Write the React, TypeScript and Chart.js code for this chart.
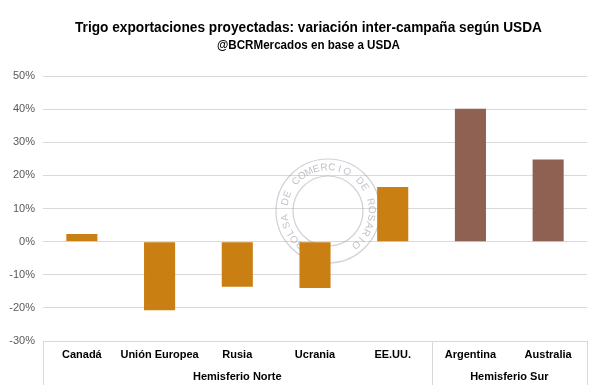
import React, { useEffect, useRef } from "react";
import { Chart, registerables } from "chart.js";

Chart.register(...registerables);

const categories = ["Canadá", "Unión Europea", "Rusia", "Ucrania", "EE.UU.", "Argentina", "Australia"];
const values = [2.3, -20.7, -13.6, -14.0, 16.5, 40.1, 24.8];
const groupNames = ["Hemisferio Norte", "Hemisferio Sur"];
const groupSizes = [5, 2];
const groupColors = ["#C97F12", "#8F6153"];
const yTicks = [-30, -20, -10, 0, 10, 20, 30, 40, 50];
const titleText = "Trigo exportaciones proyectadas: variación inter-campaña según USDA";
const subtitleText = "@BCRMercados en base a USDA";

const barColors: string[] = [];
groupSizes.forEach((n, gi) => {
  for (let i = 0; i < n; i++) barColors.push(groupColors[gi]);
});

const sansFont = "'Liberation Sans', Arial, sans-serif";

function fitText(ctx: any, text: string, cx: number, cy: number, width: number) {
  const w = ctx.measureText(text).width;
  ctx.save();
  ctx.translate(cx, cy);
  ctx.scale(width / w, 1);
  ctx.fillText(text, 0, 0);
  ctx.restore();
}

const decorPlugin = {
  id: "decor",
  beforeDatasetsDraw(chart: any) {
    const ctx = chart.ctx;
    const cx = 328, cy = 211, r = 52;
    ctx.save();
    ctx.strokeStyle = "rgba(150,150,165,0.45)";
    ctx.lineWidth = 1.2;
    ctx.beginPath(); ctx.arc(cx, cy, r, 0, Math.PI * 2); ctx.stroke();
    ctx.beginPath(); ctx.arc(cx, cy, r - 17, 0, Math.PI * 2); ctx.stroke();
    const txt = "BOLSA DE COMERCIO DE ROSARIO";
    ctx.fillStyle = "rgba(150,150,165,0.6)";
    ctx.font = "10px " + sansFont;
    ctx.textAlign = "center";
    ctx.textBaseline = "middle";
    const start = Math.PI * 0.72;
    const span = Math.PI * 1.56;
    for (let i = 0; i < txt.length; i++) {
      const a = start + (span * i) / (txt.length - 1);
      ctx.save();
      ctx.translate(cx + Math.cos(a) * (r - 8.5), cy + Math.sin(a) * (r - 8.5));
      ctx.rotate(a + Math.PI / 2);
      ctx.fillText(txt[i], 0, 0);
      ctx.restore();
    }
    ctx.restore();
  },
  afterDraw(chart: any) {
    const ctx = chart.ctx;
    const x = chart.scales.x;
    const area = chart.chartArea;
    const top = area.bottom;
    const bottom = chart.height - 6;
    const step = (area.right - area.left) / categories.length;
    ctx.save();
    ctx.strokeStyle = "#D9D9D9";
    ctx.lineWidth = 1;
    let idx = 0;
    const bounds = [0];
    groupSizes.forEach((n) => { idx += n; bounds.push(idx); });
    bounds.forEach((b) => {
      const px = Math.round(area.left + b * step) + 0.5;
      ctx.beginPath();
      ctx.moveTo(px, top);
      ctx.lineTo(px, bottom);
      ctx.stroke();
    });
    ctx.fillStyle = "#000000";
    ctx.font = "bold 11px " + sansFont;
    ctx.textAlign = "center";
    ctx.textBaseline = "middle";
    categories.forEach((c, i) => {
      ctx.fillText(c, x.getPixelForValue(i), top + 14);
    });
    for (let g = 0; g < groupNames.length; g++) {
      const l = area.left + bounds[g] * step;
      const r = area.left + bounds[g + 1] * step;
      ctx.fillText(groupNames[g], (l + r) / 2, top + 36);
    }
    ctx.textBaseline = "alphabetic";
    ctx.font = "bold 15px " + sansFont;
    fitText(ctx, titleText, 308.5, 32, 467);
    ctx.font = "bold 13px " + sansFont;
    fitText(ctx, subtitleText, 308.5, 49, 183);
    ctx.restore();
  },
};

export default function App() {
  const ref = useRef<HTMLCanvasElement | null>(null);
  useEffect(() => {
    document.body.style.margin = "0";
    const canvas = ref.current!;
    const chart = new Chart(canvas, {
      type: "bar",
      data: {
        labels: categories,
        datasets: [
          {
            data: values,
            backgroundColor: barColors,
            barPercentage: 0.4,
            categoryPercentage: 1,
          },
        ],
      },
      options: {
        animation: false,
        responsive: false,
        layout: { padding: { top: 76, right: 13, left: 0, bottom: 0 } },
        plugins: { legend: { display: false }, tooltip: { enabled: false } },
        scales: {
          x: {
            grid: { display: false },
            border: { display: false },
            ticks: { display: false },
            afterFit(scale: any) { scale.height = 50; },
          },
          y: {
            min: -30,
            max: 50,
            afterBuildTicks(scale: any) { scale.ticks = yTicks.map((v) => ({ value: v })); },
            grid: { color: "#D9D9D9", drawTicks: false },
            border: { display: false },
            ticks: {
              color: "#595959",
              font: { family: sansFont, size: 11 },
              padding: 8,
              callback: (v: any) => v + "%",
            },
            afterFit(scale: any) { scale.width = 43; },
          },
        },
      },
      plugins: [decorPlugin],
    });
    return () => chart.destroy();
  }, []);
  return (
    <div style={{ width: 600, height: 391, background: "#fff" }}>
      <canvas ref={ref} width={600} height={391} />
    </div>
  );
}
